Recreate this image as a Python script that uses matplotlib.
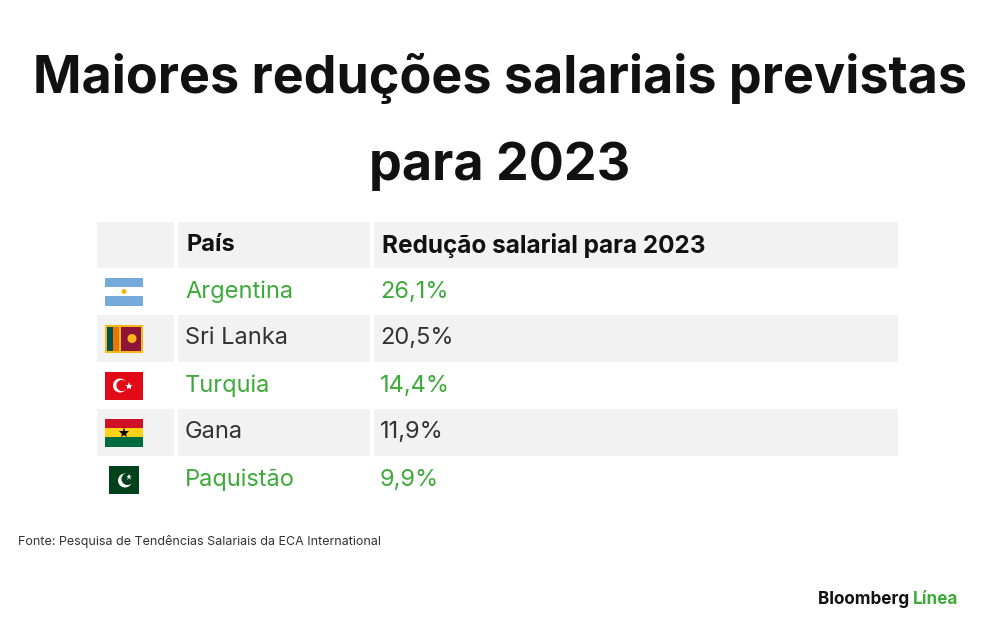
import matplotlib.pyplot as plt
from matplotlib.patches import Rectangle, Circle

# table data
countries = ["Argentina", "Sri Lanka", "Turquia", "Gana", "Paquistão"]
reductions = ["26,1%", "20,5%", "14,4%", "11,9%", "9,9%"]
flags = ["AR", "LK", "TR", "GH", "PK"]
headers = ["País", "Redução salarial para 2023"]
title_lines = ["Maiores reduções salariais previstas", "para 2023"]
source = "Fonte: Pesquisa de Tendências Salariais da ECA International"

GREEN = "#3daa3a"
DARK = "#333333"
GRAY = "#f2f2f2"

plt.rcParams['font.family'] = ['Inter', 'DejaVu Sans']

fig = plt.figure(figsize=(10, 6.42), dpi=100)
ax = fig.add_axes([0, 0, 1, 1])
ax.set_xlim(0, 1000)
ax.set_ylim(642, 0)
ax.axis('off')

# title
ax.text(500, 78, title_lines[0], ha='center', va='center',
        fontsize=37.5, fontweight='bold', color='#111111')
ax.text(500, 166, title_lines[1], ha='center', va='center',
        fontsize=37.5, fontweight='bold', color='#111111')

# table geometry
x0, x1, x2, x3 = 97, 176, 372, 898
top, hh, rh = 222, 46, 47

# header
ax.add_patch(Rectangle((x0, top), x3 - x0, hh, color=GRAY, lw=0))
ax.text(186, top + hh / 2, headers[0], ha='left', va='center', fontsize=17,
        fontweight='bold', color='#111111')
ax.text(382, top + hh / 2, headers[1], ha='left', va='center', fontsize=17.5,
        fontweight='bold', color='#111111')


def draw_flag(code, cx, cy):
    w, h = 38, 28
    l, t = cx - w / 2, cy - h / 2
    if code == "AR":
        ax.add_patch(Rectangle((l, t), w, h, color='#75aadb', lw=0))
        ax.add_patch(Rectangle((l, t + h / 3), w, h / 3, color='white', lw=0))
        ax.add_patch(Circle((cx, cy), 2.5, color='#f6b40e', lw=0))
    elif code == "LK":
        ax.add_patch(Rectangle((l, t), w, h, color='#f7b718', lw=0))
        ax.add_patch(Rectangle((l + 2, t + 2), 6, h - 4, color='#00534e', lw=0))
        ax.add_patch(Rectangle((l + 8, t + 2), 6, h - 4, color='#eb7400', lw=0))
        ax.add_patch(Rectangle((l + 16, t + 2), w - 18, h - 4, color='#8d153a', lw=0))
        ax.add_patch(Circle((l + 27, cy), 4.5, color='#f7b718', lw=0))
    elif code == "TR":
        ax.add_patch(Rectangle((l, t), w, h, color='#e30a17', lw=0))
        ax.add_patch(Circle((cx - 4, cy), 7, color='white', lw=0))
        ax.add_patch(Circle((cx - 2, cy), 5.6, color='#e30a17', lw=0))
        ax.plot(cx + 5, cy, marker='*', color='white', ms=6, mew=0)
    elif code == "GH":
        ax.add_patch(Rectangle((l, t), w, h / 3, color='#ce1126', lw=0))
        ax.add_patch(Rectangle((l, t + h / 3), w, h / 3, color='#fcd116', lw=0))
        ax.add_patch(Rectangle((l, t + 2 * h / 3), w, h / 3, color='#006b3f', lw=0))
        ax.plot(cx, cy, marker='*', color='black', ms=8, mew=0)
    elif code == "PK":
        w2 = 30
        ax.add_patch(Rectangle((cx - w2 / 2, t), w2, h, color='#01411c', lw=0))
        ax.add_patch(Circle((cx + 1, cy + 1), 7, color='white', lw=0))
        ax.add_patch(Circle((cx + 3.5, cy - 0.5), 6, color='#01411c', lw=0))
        ax.plot(cx + 5, cy - 3, marker='*', color='white', ms=5, mew=0)


for i, (c, v, f) in enumerate(zip(countries, reductions, flags)):
    y = top + hh + rh * i
    if i % 2 == 1:
        ax.add_patch(Rectangle((x0, y), x3 - x0, rh, color=GRAY, lw=0))
    col = GREEN if i % 2 == 0 else DARK
    ax.text(185, y + rh / 2, c, ha='left', va='center', fontsize=17, color=col)
    ax.text(380, y + rh / 2, v, ha='left', va='center', fontsize=17, color=col)
    draw_flag(f, 124, y + rh / 2)

# column separators
for xs in (x1, x2):
    ax.plot([xs, xs], [top, top + hh + rh * 5], color='white', lw=3)

# footer
ax.text(18, 541, source, ha='left', va='center', fontsize=9, color='#333333')
t1 = ax.text(818, 600, "Bloomberg ", ha='left', va='center', fontsize=12.3,
             fontweight='bold', color='#111111')
ax.annotate("Línea", xy=(1, 0.5), xycoords=t1, ha='left', va='center',
            fontsize=12.3, fontweight='bold', color=GREEN)

fig.savefig('out.png', dpi=100)
